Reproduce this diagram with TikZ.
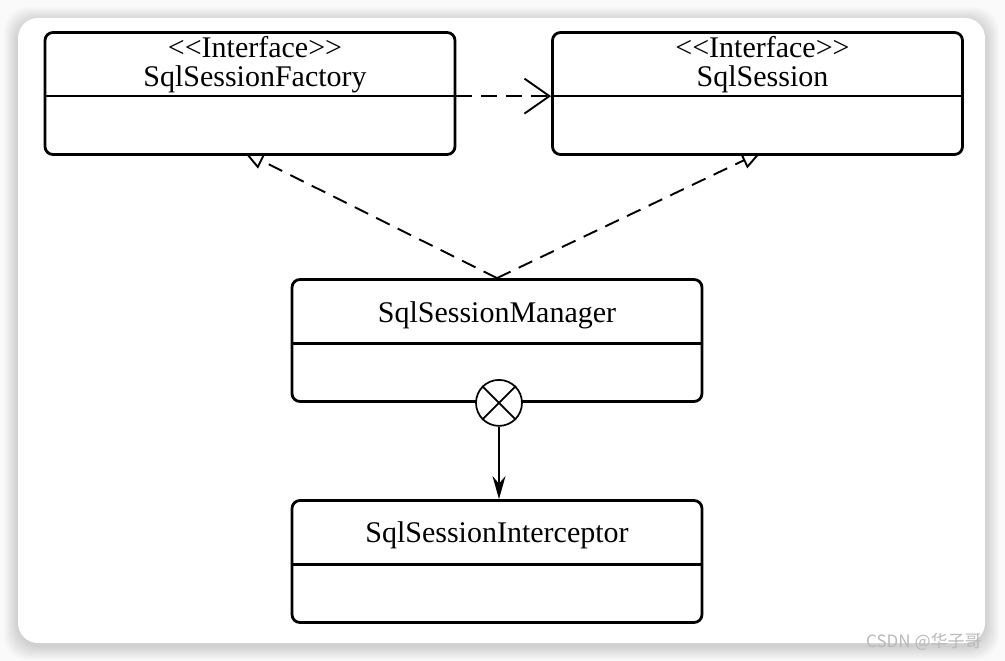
\documentclass[tikz,border=0pt]{standalone}
\usepackage{fontspec}
\setmainfont{Liberation Serif}[Ligatures=TeXOff]
\newfontfamily\cjkfont{Noto Sans CJK SC}
\usepackage{tikz}
\usetikzlibrary{positioning, shapes, arrows.meta, shapes.geometric}

\pgfdeclarelayer{card}
\pgfdeclarelayer{links}
\pgfsetlayers{card,links,main}

\begin{document}
\begin{tikzpicture}[
    x=1pt, y=-1pt,
    % UML class boxes
    classbox/.style={
        rectangle,
        rounded corners=8pt,
        draw=black,
        line width=2.8pt,
        fill=white,
        minimum width=410pt,
        minimum height=122pt
    },
    classname/.style={
        font=\fontsize{30}{29}\selectfont,
        align=center,
        inner sep=0pt
    },
    divider/.style={draw=black, line width=2.8pt},
    % relations
    realize/.style={
        dash pattern=on 15pt off 9pt,
        line width=1.9pt,
        -{Triangle[open, length=20pt, width=17pt]}
    },
    depend/.style={
        dash pattern=on 16pt off 9pt,
        line width=1.9pt,
        -{Straight Barb[length=25pt, width=35pt]}
    },
    compose/.style={
        line width=1.7pt,
        -{Stealth[length=23pt, width=13pt]}
    },
    diamondx/.style={
        circle,
        draw=black,
        fill=white,
        line width=1.7pt,
        minimum size=46pt,
        inner sep=0pt
    }
]

\useasboundingbox (0,0) rectangle (1005,661);

% Card with soft shadow
\begin{pgfonlayer}{card}
\fill[gray!4] (0,0) rectangle (1005,661);
\foreach \s in {1,...,14} {
    \fill[black, opacity=0.011, rounded corners=24pt]
        (18-\s,18-\s+3) rectangle (985+\s,643+\s+3);
}
\fill[white, rounded corners=20pt] (18,18) rectangle (985,643);
\end{pgfonlayer}

% Class boxes
\node[classbox] (factory) at (250,93.5) {};
\node[classbox] (session) at (757.5,93.5) {};
\node[classbox] (manager) at (497,340.5) {};
\node[classbox] (interceptor) at (497,561.5) {};

% Names
\node[classname] (factory-name) at ([xshift=5pt, yshift=-34pt]factory.north)
    {<<Interface>>\\SqlSessionFactory};
\node[classname] (session-name) at ([xshift=5pt, yshift=-34pt]session.north)
    {<<Interface>>\\SqlSession};
\node[classname] (manager-name) at ([yshift=-37pt]manager.north) {SqlSessionManager};
\node[classname] (interceptor-name) at ([yshift=-36pt]interceptor.north) {SqlSessionInterceptor};

% Compartment lines
\draw[divider] ([yshift=-65pt]factory.north west) -- ([yshift=-65pt]factory.north east);
\draw[divider] ([yshift=-65pt]session.north west) -- ([yshift=-65pt]session.north east);
\draw[divider] ([yshift=-65pt]manager.north west) -- ([yshift=-65pt]manager.north east);
\draw[divider] ([yshift=-65pt]interceptor.north west) -- ([yshift=-65pt]interceptor.north east);

% Composition mark
\node[diamondx] (cross) at ([xshift=2pt]manager.south) {};
\draw[line width=1.7pt] (cross.north west) -- (cross.south east);
\draw[line width=1.7pt] (cross.north east) -- (cross.south west);
\draw[compose] (cross) -- (cross |- interceptor.north);

% Relations (behind the boxes)
\begin{pgfonlayer}{links}
\draw[realize] (manager.north) -- ([xshift=-6pt, yshift=4pt]factory.south);
\draw[realize] (manager.north) -- ([xshift=4pt, yshift=4pt]session.south);
\draw[depend] ([yshift=-65pt]factory.north east) -- ([yshift=-65pt]session.north west);
\end{pgfonlayer}

% Watermark
\node[font=\cjkfont\fontsize{17}{17}\selectfont, text=gray!55, anchor=west, inner sep=0pt]
    (mark) at (866,642) {CSDN @华子哥};
\end{tikzpicture}
\end{document}
